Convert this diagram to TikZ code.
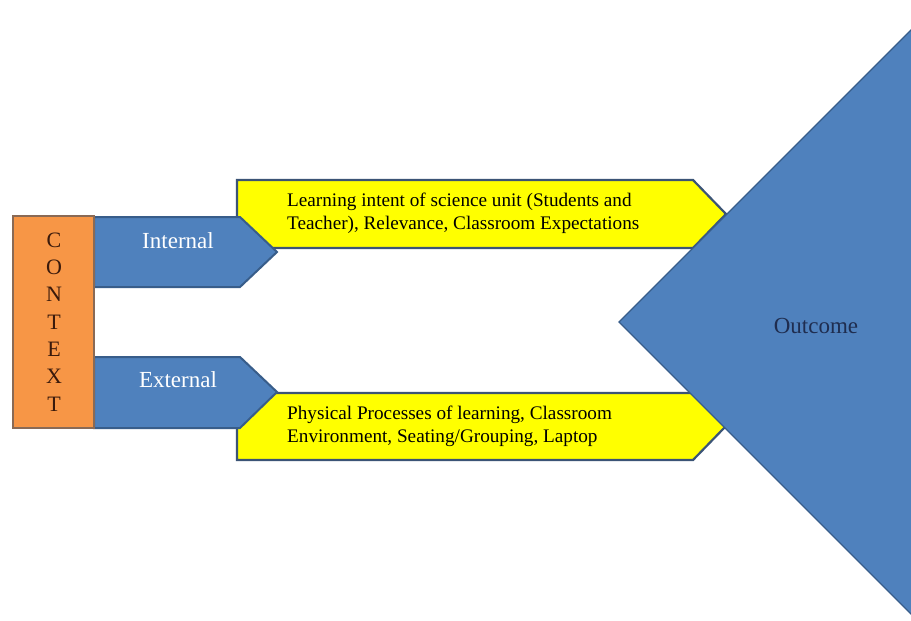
\documentclass[tikz,border=0pt]{standalone}
\usepackage{fontspec}
\setmainfont{Liberation Serif}
\definecolor{boxblue}{HTML}{4F81BD}
\definecolor{blueline}{HTML}{385D8A}
\definecolor{boxorange}{HTML}{F79646}
\definecolor{orangeline}{HTML}{8A6A55}
\definecolor{boxyellow}{HTML}{FFFF00}
\definecolor{yellowline}{HTML}{3B5476}
\definecolor{navytext}{HTML}{1F2D4F}
\definecolor{browntext}{HTML}{3A1A0C}
\tikzset{
  bluearrow/.style={fill=boxblue, draw=blueline, line width=2pt, line join=miter},
  yellowbox/.style={fill=boxyellow, draw=yellowline, line width=2.2pt, line join=miter},
  ctxbox/.style={fill=boxorange, draw=orangeline, line width=2pt},
  outcomeshape/.style={fill=boxblue, draw=blueline, line width=1.2pt},
  branchlabel/.style={text=white, font=\fontsize{23}{27}\selectfont, inner sep=0pt},
  itemtext/.style={text=black, font=\fontsize{19.2}{23}\selectfont, align=left, inner sep=0pt, anchor=west},
}
\begin{document}
\begin{tikzpicture}[x=1pt,y=-1pt]
\useasboundingbox (0,0) rectangle (911,621);
\fill[white] (0,0) rectangle (911,621);
\begin{scope}
\clip (0,0) rectangle (911,621);

% yellow bars with pointed right ends
\draw[yellowbox] (237,180) -- (693,180) -- (726,214) -- (693,248) -- (237,248) -- cycle;
\draw[yellowbox] (237,393) -- (693,393) -- (726,426) -- (693,460) -- (237,460) -- cycle;

% blue branch arrows leaving the context box
\draw[bluearrow] (94,217) -- (240,217) -- (277,252) -- (240,287) -- (94,287) -- cycle;
\draw[bluearrow] (94,357) -- (240,357) -- (277,392) -- (240,428) -- (94,428) -- cycle;

% context column
\draw[ctxbox] (13,216) rectangle (94,428);

% outcome triangle
\draw[outcomeshape] (619,322) -- (962,-21) -- (962,665) -- cycle;
\end{scope}

\node[text=browntext, font=\fontsize{22}{27.3}\selectfont, align=center, inner sep=0pt]
  (context) at (54,322) {C\\O\\N\\T\\E\\X\\T};
\node[branchlabel] (internal) at (178,241) {Internal};
\node[branchlabel] (external) at (178,380) {External};
\node[itemtext] (intent) at (287,213)
  {Learning intent of science unit (Students and\\Teacher), Relevance, Classroom Expectations};
\node[itemtext] (physical) at (287,426)
  {Physical Processes of learning, Classroom\\Environment, Seating/Grouping, Laptop};
\node[text=navytext, font=\fontsize{23}{27}\selectfont, inner sep=0pt] (outcome) at (816,326) {Outcome};
\end{tikzpicture}
\end{document}
